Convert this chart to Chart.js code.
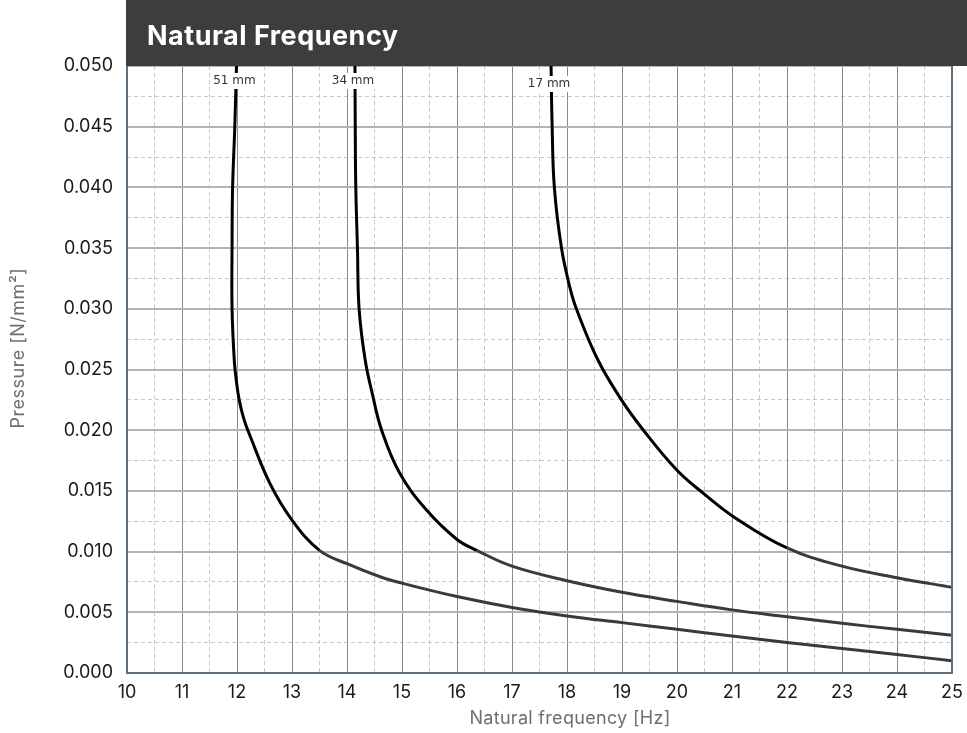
<!DOCTYPE html>
<html>
<head>
<meta charset="utf-8">
<script src="https://cdn.jsdelivr.net/npm/chart.js@4.4.1/dist/chart.umd.min.js"></script>
<style>
  html,body{margin:0;padding:0;background:#fff;}
  #wrap{width:967px;height:733px;position:relative;}
</style>
</head>
<body>
<div id="wrap"><canvas id="c" width="967" height="733"></canvas></div>
<script>
// curve labels
const curveNames = ["51 mm", "34 mm", "17 mm"];

// 51 mm curve: frequency [Hz] / pressure [N/mm2]
const f51 = [11.99, 11.96, 11.92, 11.91, 11.91, 11.95, 11.99, 12.04, 12.12, 12.24, 12.6, 13.0, 13.5, 14.0, 14.6, 15.0, 16.0, 17.0, 18.0, 19.0, 20.0, 21.0, 22.0, 23.0, 24.0, 25.0];
const p51 = [0.050, 0.045, 0.040, 0.035, 0.030, 0.0258, 0.0240, 0.0225, 0.0210, 0.0195, 0.0156, 0.0126, 0.0101, 0.0090, 0.00793, 0.0074, 0.0063, 0.0054, 0.0047, 0.00415, 0.0036, 0.00305, 0.00252, 0.00202, 0.00152, 0.00101];

// 34 mm curve
const f34 = [14.145, 14.15, 14.16, 14.19, 14.22, 14.33, 14.46, 14.63, 14.96, 15.45, 16.0, 16.36, 17.0, 18.0, 19.0, 20.0, 21.0, 22.0, 23.0, 24.0, 25.0];
const p34 = [0.050, 0.045, 0.040, 0.035, 0.030, 0.0258, 0.0230, 0.0200, 0.01645, 0.0134, 0.0110, 0.0101, 0.0088, 0.0076, 0.00665, 0.0059, 0.0052, 0.00464, 0.00409, 0.0036, 0.0031];

// 17 mm curve
const f17 = [17.71, 17.73, 17.77, 17.90, 18.05, 18.17, 18.56, 18.99, 19.39, 20.0, 20.48, 21.02, 22.0, 23.0, 24.0, 25.0];
const p17 = [0.050, 0.045, 0.040, 0.035, 0.0318, 0.030, 0.0258, 0.0225, 0.0200, 0.0167, 0.0148, 0.0129, 0.0103, 0.0088, 0.00785, 0.00706];

const xMin = 10, xMax = 25, yMin = 0, yMax = 0.05;

const pts = (fs, ps) => fs.map((f, i) => ({x: f, y: ps[i]}));
const seg = {borderColor: ctx => ctx.p0.parsed.y <= 0.0104 ? "#3a3a3a" : "#000"};
const mk = (label, fs, ps) => ({label, data: pts(fs, ps), xAxisID: "x", yAxisID: "y",
  borderColor: "#000", borderWidth: 3, pointRadius: 0, tension: 0.4,
  fill: false, segment: seg});

const deco = {
  id: "deco",
  beforeDraw(chart){
    const {ctx} = chart;
    ctx.save(); ctx.fillStyle = "#fff"; ctx.fillRect(0, 0, chart.width, chart.height); ctx.restore();
  },
  afterDatasetsDraw(chart){
    const {ctx, scales:{x}} = chart;
    ctx.save();
    ctx.font = "12px 'DejaVu Sans'";
    ctx.textAlign = "center"; ctx.textBaseline = "middle";
    [[f51, 0], [f34, 0], [f17, 3]].forEach(([fs, dy], i) => {
      const px = x.getPixelForValue(fs[0]) - 2, py = chart.chartArea.top + 15 + dy;
      const w = ctx.measureText(curveNames[i]).width;
      ctx.fillStyle = "#fff"; ctx.fillRect(px - w/2 - 2, py - 8, w + 4, 16);
      ctx.fillStyle = "#333"; ctx.fillText(curveNames[i], px, py);
    });
    ctx.restore();
  },
  afterDraw(chart){
    const {ctx, chartArea:a} = chart;
    ctx.save();
    // frame
    ctx.strokeStyle = "#5c7080"; ctx.lineWidth = 2;
    ctx.beginPath();
    ctx.moveTo(a.left, a.top); ctx.lineTo(a.left, a.bottom); ctx.lineTo(a.right, a.bottom); ctx.lineTo(a.right, a.top);
    ctx.stroke();
    // title bar
    ctx.fillStyle = "#3d3d3d"; ctx.fillRect(a.left - 1, 0, chart.width - a.left + 1, a.top);
    ctx.fillStyle = "#fff"; ctx.font = "bold 27px Inter"; ctx.letterSpacing = "0.5px";
    ctx.textAlign = "left"; ctx.textBaseline = "alphabetic";
    ctx.fillText("Natural Frequency", a.left + 20, 45);
    // axis titles
    ctx.fillStyle = "#6e6e6e"; ctx.font = "18px Inter"; ctx.letterSpacing = "0.3px";
    ctx.textAlign = "center"; ctx.textBaseline = "middle";
    ctx.fillText("Natural frequency [Hz]", 570, 719);
    ctx.translate(19, 348); ctx.rotate(-Math.PI/2);
    ctx.letterSpacing = "0.5px";
    ctx.fillText("Pressure [N/mm²]", 0, 0);
    ctx.restore();
  }
};

new Chart(document.getElementById("c"), {
  type: "line",
  data: {datasets: [mk(curveNames[0], f51, p51), mk(curveNames[1], f34, p34), mk(curveNames[2], f17, p17)]},
  options: {
    responsive: false, animation: false,
    layout: {padding: {top: 66, right: 15, left: 0, bottom: 0}},
    plugins: {legend: {display: false}, tooltip: {enabled: false}},
    scales: {
      xm: {type: "linear", position: "bottom", min: xMin, max: xMax, ticks: {display: false, stepSize: 0.5},
        grid: {color: "#c8c8c8", lineWidth: 1, drawTicks: false, z: -2}, border: {display: false, dash: [4, 3]},
        afterFit: s => { s.height = 0; s.paddingLeft = 0; s.paddingRight = 0; }},
      ym: {type: "linear", position: "left", min: yMin, max: yMax, ticks: {display: false, stepSize: 0.0025},
        grid: {color: "#c8c8c8", lineWidth: 1, drawTicks: false, z: -2}, border: {display: false, dash: [4, 3]},
        afterFit: s => { s.width = 0; s.paddingTop = 0; s.paddingBottom = 0; }},
      x: {type: "linear", position: "bottom", min: xMin, max: xMax,
        ticks: {stepSize: 1, padding: 9, color: "#1a1a1a", font: {family: "Inter", size: 18}},
        grid: {color: "#8a8a8a", lineWidth: 1, drawTicks: false, z: -1}, border: {display: false},
        afterFit: s => { s.height = 60; s.paddingLeft = 0; s.paddingRight = 0; }},
      y: {type: "linear", position: "left", min: yMin, max: yMax,
        ticks: {stepSize: 0.005, padding: 14, color: "#1a1a1a", font: {family: "Inter", size: 18},
          callback: v => v.toFixed(3)},
        grid: {color: "#b4b4b4", lineWidth: 2, drawTicks: false, z: -1}, border: {display: false},
        afterFit: s => { s.width = 127; s.paddingTop = 0; s.paddingBottom = 0; }}
    }
  },
  plugins: [deco]
});
</script>
</body>
</html>
